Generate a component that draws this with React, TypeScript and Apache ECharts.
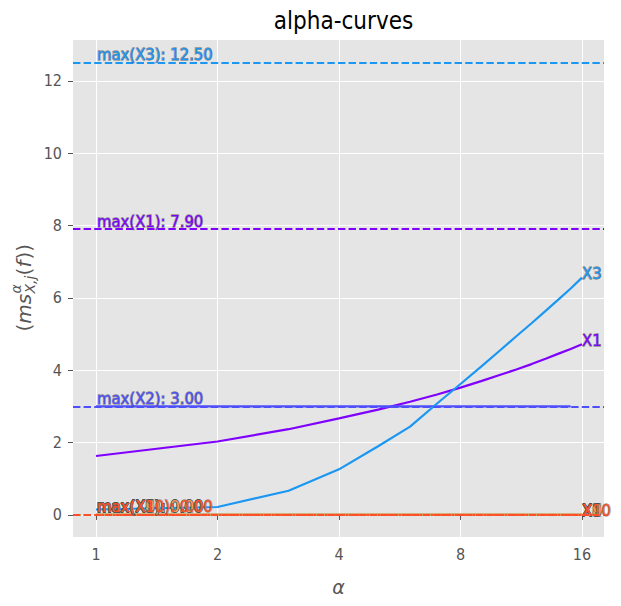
import React, { useEffect, useRef } from "react";
import * as echarts from "echarts";

const alphas = [1, 2, 3, 4, 5, 6, 7, 8, 9, 10, 11, 12, 13, 14, 15, 16];
const seriesNames = ["X1", "X2", "X3", "X4", "X5", "X6", "X7", "X8", "X9", "X10"];
const x1Values = [1.63, 2.03, 2.37, 2.67, 2.91, 3.13, 3.33, 3.52, 3.7, 3.87, 4.02, 4.17, 4.32, 4.46, 4.59, 4.72];
const x2Values = [3.0, 3.0, 3.0, 3.0, 3.0, 3.0, 3.0, 3.0, 3.0, 3.0, 3.0, 3.0, 3.0, 3.0, 3.0, null];
const x3Values = [0.15, 0.22, 0.67, 1.26, 1.9, 2.44, 3.08, 3.62, 4.1, 4.54, 4.94, 5.3, 5.64, 5.96, 6.26, 6.56];
const x4Values = [0, 0, 0, 0, 0, 0, 0, 0, 0, 0, 0, 0, 0, 0, 0, 0];
const x5Values = [0, 0, 0, 0, 0, 0, 0, 0, 0, 0, 0, 0, 0, 0, 0, 0];
const x6Values = [0, 0, 0, 0, 0, 0, 0, 0, 0, 0, 0, 0, 0, 0, 0, 0];
const x7Values = [0, 0, 0, 0, 0, 0, 0, 0, 0, 0, 0, 0, 0, 0, 0, 0];
const x8Values = [0, 0, 0, 0, 0, 0, 0, 0, 0, 0, 0, 0, 0, 0, 0, 0];
const x9Values = [0, 0, 0, 0, 0, 0, 0, 0, 0, 0, 0, 0, 0, 0, 0, 0];
const x10Values = [0, 0, 0, 0, 0, 0, 0, 0, 0, 0, 0, 0, 0, 0, 0, 0];
const maxValues = [7.9, 3.0, 12.5, 0, 0, 0, 0, 0, 0, 0];
const xTicks = [1, 2, 4, 8, 16];
const yTicks = [0, 2, 4, 6, 8, 10, 12];

const colors = [
  "#8000ff", "#4d4ffc", "#1a96f3", "#1acee3", "#4df3ce",
  "#80ffb4", "#b3f396", "#e6ce74", "#ff964f", "#ff4f28",
];

const FONT = "'DejaVu Sans Condensed', 'DejaVu Sans', sans-serif";
const MATHFONT = "'DejaVu Sans', sans-serif";

export default function App() {
  const ref = useRef<HTMLDivElement>(null);
  useEffect(() => {
    if (!ref.current) return;
    const chart = echarts.init(ref.current, null, { renderer: "svg" });
    const allValues = [x1Values, x2Values, x3Values, x4Values, x5Values, x6Values, x7Values, x8Values, x9Values, x10Values];
    const series = seriesNames.map((name, i) => ({
      name,
      type: "line",
      data: alphas.map((a, k) => [a, allValues[i][k]]),
      showSymbol: false,
      symbol: "none",
      connectNulls: false,
      lineStyle: { color: colors[i], width: 2.2 },
      itemStyle: { color: colors[i] },
      endLabel: {
        show: i !== 1,
        formatter: name,
        color: colors[i],
        fontFamily: FONT,
        fontSize: 16.5,
        distance: 0,
        offset: [0, -4],
        textBorderColor: "rgba(80,80,80,0.6)",
        textBorderWidth: 1.3,
      },
      markLine: {
        silent: true,
        symbol: "none",
        animation: false,
        lineStyle: { color: colors[i], type: [7.4, 3.2], width: 2.2 },
        label: { show: false },
        data: [{ yAxis: maxValues[i] }],
      },
      markPoint: {
        silent: true,
        animation: false,
        symbol: "rect",
        symbolSize: 0,
        label: {
          show: true,
          position: "right",
          distance: 1,
          offset: [0, -8],
          formatter: `max(${name}): ${maxValues[i].toFixed(2)}`,
          color: colors[i],
          fontFamily: FONT,
          fontSize: 16.5,
          textBorderColor: "rgba(80,80,80,0.6)",
          textBorderWidth: 1.3,
        },
        data: [{ coord: [alphas[0], maxValues[i]] }],
      },
    }));

    const s = 20;
    const sm = 14;
    const grey = "#555555";
    const mk = (text: string, x: number, y: number, size: number, italic: boolean) => ({
      type: "text",
      x,
      y,
      style: {
        text,
        fill: grey,
        fontSize: size,
        fontFamily: MATHFONT,
        fontStyle: italic ? "italic" : "normal",
        textAlign: "left",
        textVerticalAlign: "middle",
      },
    });

    chart.setOption({
      animation: false,
      title: {
        text: "alpha-curves",
        left: 338.5,
        top: 4,
        textAlign: "center",
        textStyle: { fontFamily: FONT, fontSize: 24, fontWeight: "normal", color: "#000" },
      },
      grid: {
        left: 73,
        right: 17,
        top: 40,
        bottom: 69,
        show: true,
        backgroundColor: "#e5e5e5",
        borderWidth: 0,
      },
      xAxis: {
        type: "log",
        logBase: 2,
        min: 0.877,
        max: 18.14,
        name: "α",
        nameLocation: "middle",
        nameGap: 40,
        nameTextStyle: { fontFamily: MATHFONT, fontStyle: "italic", fontSize: 19, color: grey },
        axisLine: { show: false },
        axisTick: { show: true, length: 5, lineStyle: { color: grey }, customValues: xTicks },
        axisLabel: { color: grey, fontFamily: FONT, fontSize: 16, margin: 9, customValues: xTicks, formatter: (v: number) => String(v) },
        splitLine: { show: true, lineStyle: { color: "#ffffff", width: 1 } },
      },
      yAxis: {
        type: "value",
        min: -0.61,
        max: 13.13,
        axisLine: { show: false },
        axisTick: { show: true, length: 5, lineStyle: { color: grey }, customValues: yTicks },
        axisLabel: { color: grey, fontFamily: FONT, fontSize: 16, margin: 11, customValues: yTicks },
        splitLine: { show: true, lineStyle: { color: "#ffffff", width: 1 } },
      },
      graphic: [
        {
          type: "group",
          x: 24,
          y: 288,
          rotation: Math.PI / 2,
          children: [
            mk("(", -43.5, 0, s, false),
            mk("ms", -35.7, 0, s, true),
            mk("α", -5.5, -8, sm, true),
            mk("X,j", -5.5, 6, sm, true),
            mk("(", 12.6, 0, s, false),
            mk("f", 20.4, 0, s, true),
            mk("))", 28.4, 0, s, false),
          ],
        },
      ],
      series,
    });
    return () => chart.dispose();
  }, []);
  return <div ref={ref} style={{ position: "absolute", left: 0, top: 0, width: 621, height: 606 }} />;
}
